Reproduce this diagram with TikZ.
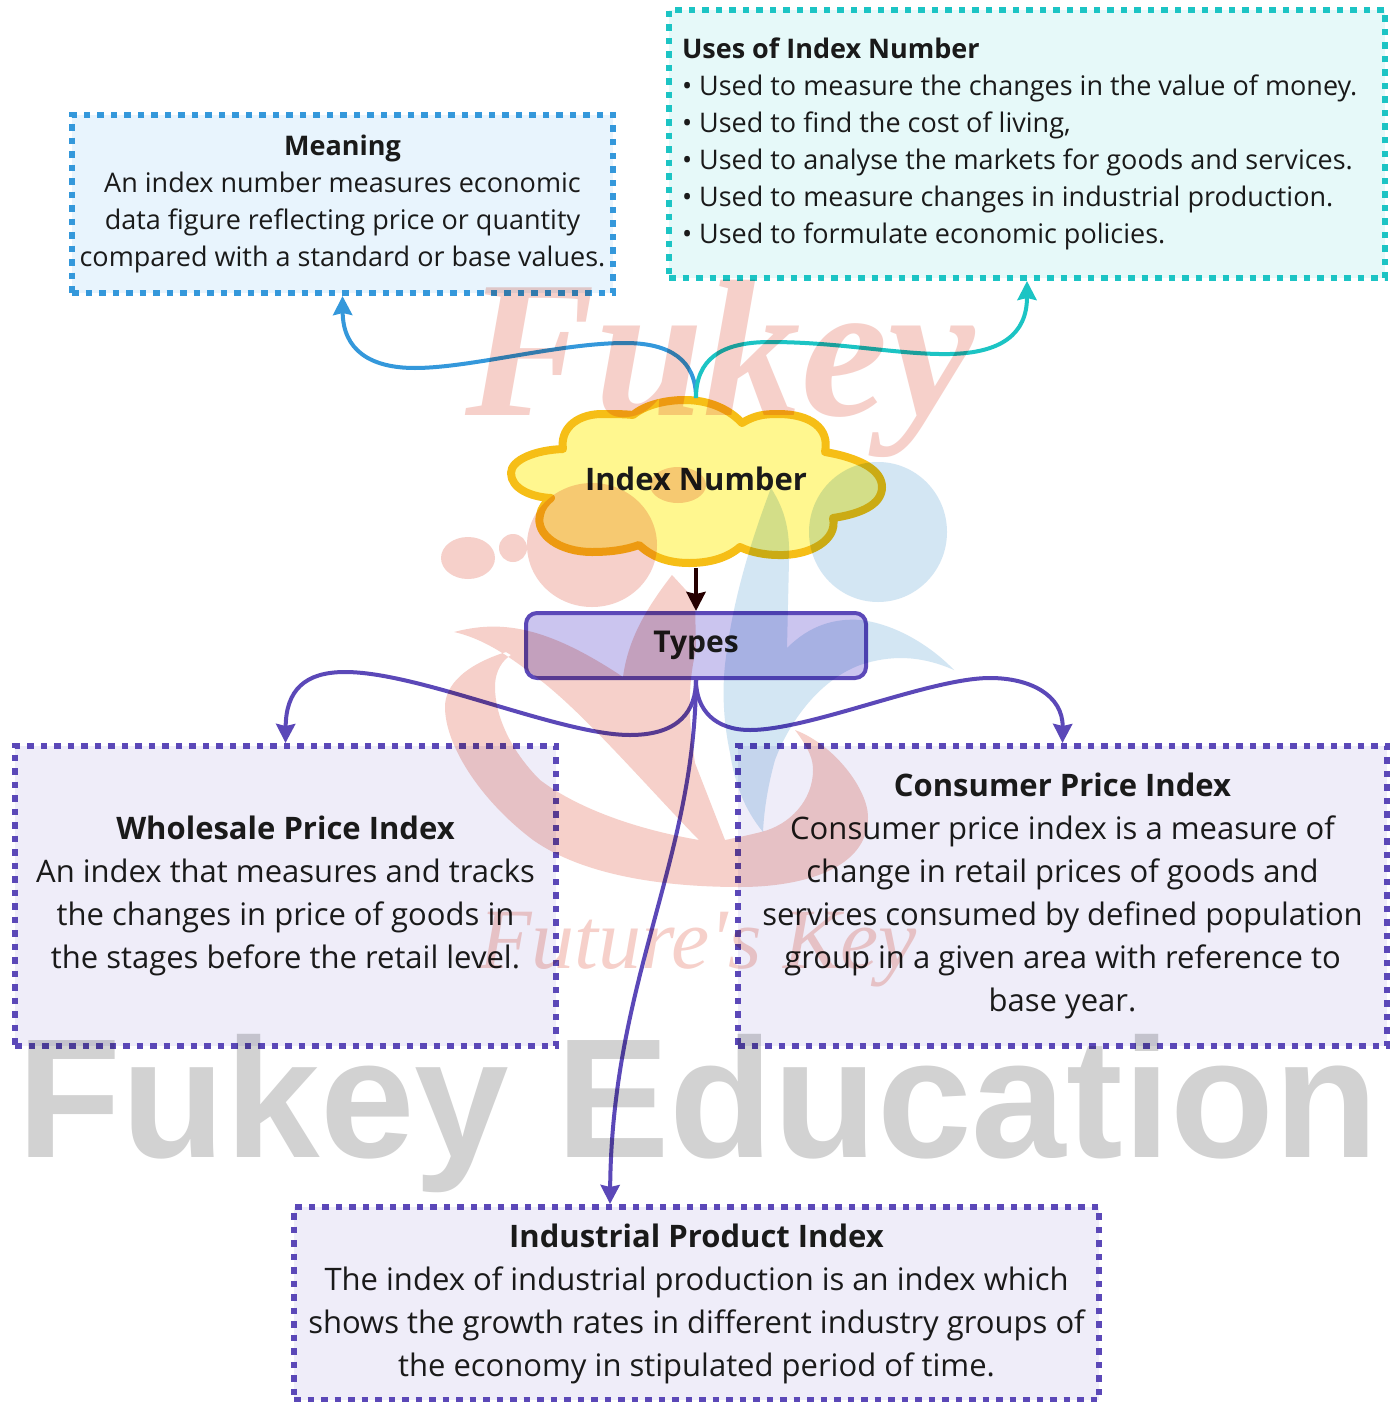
\documentclass[tikz,border=0pt]{standalone}
\usepackage{fontspec}
\setmainfont{Open Sans}
\newfontfamily\wmsans{Liberation Sans}
\newfontfamily\wmserif{Liberation Serif}
\usetikzlibrary{arrows.meta}
\definecolor{ink}{HTML}{1A1A1A}
\definecolor{bluebd}{HTML}{3498DB}
\definecolor{bluefl}{HTML}{E8F4FD}
\definecolor{tealbd}{HTML}{1CC4C4}
\definecolor{tealfl}{HTML}{E6F9F9}
\definecolor{purbd}{HTML}{5B48B8}
\definecolor{purfl}{HTML}{EFEDF9}
\definecolor{typefl}{HTML}{CBC5EF}
\definecolor{cloudbd}{HTML}{F6BE16}
\definecolor{cloudfl}{HTML}{FFF78F}
\definecolor{wmred}{HTML}{F6D0CA}
\definecolor{wmblue}{HTML}{D3E6F3}
\definecolor{wmgray}{HTML}{D2D2D2}
\tikzset{
  x=1pt,y=-1pt,
  infobox/.style={draw,line width=6pt,dash pattern=on 6.5pt off 7pt,align=center,text=ink,inner sep=0pt},
  smalltext/.style={font=\fontsize{27}{36.9}\selectfont},
  bigtext/.style={font=\fontsize{31}{43}\selectfont},
  link/.style={line width=4pt,-{Stealth[length=19pt,width=19pt,inset=2pt]}},
}
\newcommand{\hd}[1]{{\fontseries{b}\selectfont #1}}
\begin{document}
\begin{tikzpicture}
\useasboundingbox (0,0) rectangle (1394,1402);
\fill[white] (0,0) rectangle (1394,1402);
% boxes
\node[infobox,smalltext,draw=bluebd,fill=bluefl,minimum width=541pt,minimum height=178pt] (meaning) at (342.5,204)
 {\hd{Meaning}\\An index number measures economic\\data figure reflecting price or quantity\\compared with a standard or base values.};
\node[infobox,smalltext,draw=tealbd,fill=tealfl,minimum width=716pt,minimum height=268pt] (uses) at (1027,144)
 {\begin{minipage}{690pt}\raggedright\hd{Uses of Index Number}\\
 \textbullet\ Used to measure the changes in the value of money.\\
 \textbullet\ Used to find the cost of living,\\
 \textbullet\ Used to analyse the markets for goods and services.\\
 \textbullet\ Used to measure changes in industrial production.\\
 \textbullet\ Used to formulate economic policies.\end{minipage}};
\node[infobox,bigtext,draw=purbd,fill=purfl,minimum width=541pt,minimum height=300pt] (wpi) at (285.5,896)
 {\hd{Wholesale Price Index}\\An index that measures and tracks\\the changes in price of goods in\\the stages before the retail level.};
\node[infobox,bigtext,draw=purbd,fill=purfl,minimum width=649pt,minimum height=300pt] (cpi) at (1062.5,896)
 {\hd{Consumer Price Index}\\Consumer price index is a measure of\\change in retail prices of goods and\\services consumed by defined population\\group in a given area with reference to\\base year.};
\node[infobox,bigtext,draw=purbd,fill=purfl,minimum width=805pt,minimum height=193pt] (ipi) at (696.5,1303.5)
 {\hd{Industrial Product Index}\\The index of industrial production is an index which\\shows the growth rates in different industry groups of\\the economy in stipulated period of time.};
\coordinate (ipiin) at (610,1204);
% cloud
\draw[line width=8pt,draw=cloudbd,fill=cloudfl,line join=round]
 (633,415) .. controls (645,405) and (665,400) .. (685,400)
 .. controls (710,400) and (730,410) .. (742,423)
 .. controls (755,415) and (765,414) .. (778,414)
 .. controls (810,414) and (830,428) .. (825,452)
 .. controls (860,458) and (882,470) .. (882,487)
 .. controls (882,505) and (860,514) .. (833,518)
 .. controls (838,540) and (810,556) .. (778,555)
 .. controls (765,555) and (750,552) .. (740,547)
 .. controls (725,560) and (705,563) .. (689,563)
 .. controls (665,563) and (650,555) .. (639,545)
 .. controls (625,550) and (610,552) .. (592,552)
 .. controls (560,552) and (535,535) .. (540,515)
 .. controls (541,508) and (546,502) .. (551,498)
 .. controls (530,497) and (511,488) .. (511,473)
 .. controls (511,460) and (535,450) .. (563,449)
 .. controls (560,430) and (575,415) .. (600,414)
 .. controls (612,414) and (625,414) .. (633,415) -- cycle;
\node[font=\fontsize{31}{36}\selectfont\bfseries,text=ink,minimum width=372pt,minimum height=165pt,inner sep=0pt] (cloud) at (696,479) {Index Number};
\coordinate (cloudtop) at (696,398);
\coordinate (cloudbot) at (696,568);
% types
\node[draw=purbd,fill=typefl,line width=4pt,rounded corners=11pt,minimum width=340pt,minimum height=65pt,text=ink,inner sep=0pt,font=\fontsize{30}{36}\selectfont\bfseries] (types) at (696,645.5) {Types};
% connectors
\draw[link,draw=bluebd,-{Stealth[length=19pt,width=19pt,inset=2pt,fill=bluebd]}] (cloudtop) .. controls (696,360) and (670,343) .. (625,343) .. controls (560,343) and (470,368) .. (415,368) .. controls (370,368) and (343,350) .. (meaning.south);
\draw[link,draw=tealbd] (cloudtop) .. controls (696,360) and (720,342) .. (770,342) .. controls (840,342) and (900,355) .. (950,354) .. controls (1000,353) and (1027,335) .. (uses.south);
\draw[link,draw=purbd] (types.south) .. controls (696,710) and (680,735) .. (630,735) .. controls (560,735) and (420,672) .. (345,672) .. controls (305,672) and (286,690) .. (wpi.north);
\draw[link,draw=purbd] (types.south) .. controls (696,710) and (715,730) .. (750,730) .. controls (810,730) and (930,678) .. (990,678) .. controls (1030,678) and (1063,695) .. (cpi.north);
\draw[link,draw=purbd] (types.south) .. controls (695,860) and (612,980) .. (ipiin);
\draw[link,draw=black!85!red] (cloudbot) -- (types.north);
% watermark
\begin{scope}[blend mode=multiply]
\fill[wmblue] (878,532) ellipse [x radius=69,y radius=70];
\fill[wmblue] (771,488) .. controls (785,510) and (790,530) .. (789,560) -- (787,648) .. controls (810,625) and (835,618) .. (861,620) .. controls (900,625) and (935,650) .. (954,670) .. controls (920,655) and (890,655) .. (860,665) .. controls (820,680) and (790,720) .. (775,760) .. controls (768,785) and (764,810) .. (763,832) .. controls (745,810) and (735,785) .. (730,753) .. controls (722,715) and (722,680) .. (727,650) .. controls (735,590) and (755,530) .. (771,488) -- cycle;
\fill[wmred] (506,652) .. controls (465,665) and (445,685) .. (445,707) .. controls (445,745) and (480,800) .. (533,840) .. controls (590,880) and (680,887) .. (740,887) .. controls (800,887) and (868,870) .. (868,817) .. controls (868,790) and (835,745) .. (795,730) .. controls (810,750) and (813,760) .. (813,770) .. controls (813,800) and (790,825) .. (761,832) .. controls (745,836) and (735,838) .. (725,840) -- (699,840) .. controls (640,830) and (580,810) .. (540,780) .. controls (510,750) and (495,715) .. (495,687) .. controls (495,670) and (503,660) .. (511,655) -- cycle
 (454,632) .. controls (500,620) and (545,625) .. (623,677) .. controls (628,640) and (645,610) .. (672,575) -- (695,600) -- (696,650) .. controls (686,690) and (690,730) .. (695,763) -- (725,840) -- (699,840) .. controls (650,790) and (590,720) .. (544,683) .. controls (520,665) and (490,640) .. (454,632) -- cycle
 (592,545) ellipse [x radius=65,y radius=62]
 (468,558) ellipse [x radius=27,y radius=21]
 (513,548) circle [radius=14]
 (678,485) ellipse [x radius=28,y radius=18];
\node[text=wmred,inner sep=0pt,anchor=base,font=\wmserif\itshape\bfseries\fontsize{195}{200}\selectfont] (wmfukey) at (720,415) {Fukey};
\node[text=wmred,inner sep=0pt,anchor=base,font=\wmserif\itshape\fontsize{86}{90}\selectfont] (wmkey) at (698,968) {Future's Key};
\node[text=wmgray,inner sep=0pt,anchor=base,font=\wmsans\bfseries\fontsize{170}{180}\selectfont] (wmedu) at (698,1157) {Fukey Education};
\end{scope}
\end{tikzpicture}
\end{document}
